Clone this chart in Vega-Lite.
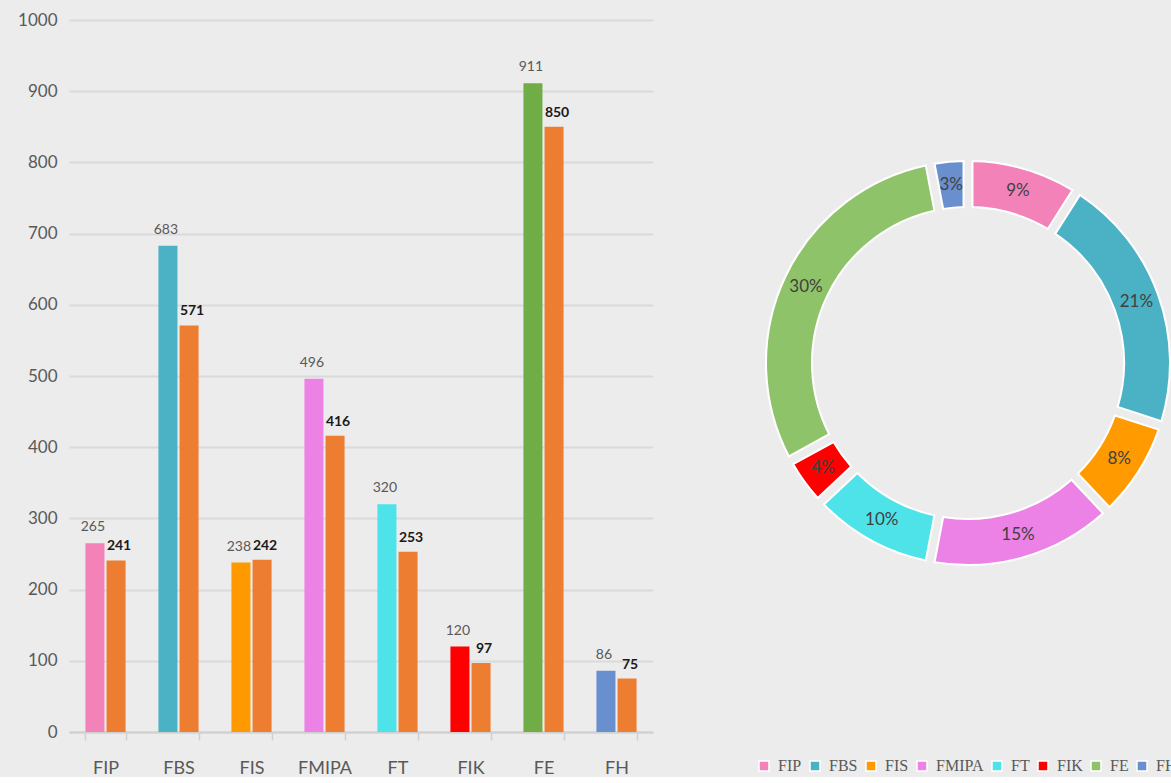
{
  "$schema": "https://vega.github.io/schema/vega-lite/v6.json",
  "background": "#ececec",
  "padding": {"left": 17, "top": 11, "right": 0, "bottom": 0},
  "config": {
    "view": {"stroke": null},
    "font": "Lato, sans-serif"
  },
  "spacing": 103,
  "resolve": {"scale": {"color": "independent"}, "legend": {"color": "independent"}},
  "hconcat": [
    {
      "width": 584,
      "height": 712,
      "data": {
        "values": [
          {"faculty": "FIP", "series": "s1", "value": 265},
          {"faculty": "FIP", "series": "s2", "value": 241},
          {"faculty": "FBS", "series": "s1", "value": 683},
          {"faculty": "FBS", "series": "s2", "value": 571},
          {"faculty": "FIS", "series": "s1", "value": 238},
          {"faculty": "FIS", "series": "s2", "value": 242},
          {"faculty": "FMIPA", "series": "s1", "value": 496},
          {"faculty": "FMIPA", "series": "s2", "value": 416},
          {"faculty": "FT", "series": "s1", "value": 320},
          {"faculty": "FT", "series": "s2", "value": 253},
          {"faculty": "FIK", "series": "s1", "value": 120},
          {"faculty": "FIK", "series": "s2", "value": 97},
          {"faculty": "FE", "series": "s1", "value": 911},
          {"faculty": "FE", "series": "s2", "value": 850},
          {"faculty": "FH", "series": "s1", "value": 86},
          {"faculty": "FH", "series": "s2", "value": 75}
        ]
      },
      "encoding": {
        "x": {
          "field": "faculty", "type": "nominal", "sort": null,
          "scale": {"paddingInner": 0.45, "paddingOuter": 0.225},
          "axis": {
            "title": null, "labelAngle": 0, "labelFontSize": 18, "labelColor": "#595959",
            "labelPadding": 19, "tickBand": "extent", "ticks": true, "tickColor": "#d0d0d0",
            "tickSize": 8, "tickWidth": 1.5, "domainColor": "#d0d0d0", "domainWidth": 2, "grid": false
          }
        },
        "xOffset": {"field": "series", "type": "nominal", "scale": {"paddingInner": 0.1}},
        "y": {
          "field": "value", "type": "quantitative",
          "scale": {"domain": [0, 1000], "nice": false},
          "axis": {
            "title": null, "tickCount": 10, "format": "d", "grid": true, "gridColor": "#dadada", "gridWidth": 2,
            "domain": false, "ticks": false, "tickSize": 0, "labelFontSize": 17, "labelColor": "#595959",
            "labelPadding": 12
          }
        }
      },
      "layer": [
        {
          "mark": {"type": "bar"},
          "encoding": {
            "color": {
              "condition": {"test": "datum.series === 's2'", "value": "#ed7d31"},
              "field": "faculty", "type": "nominal", "legend": null,
              "scale": {
                "domain": ["FIP", "FBS", "FIS", "FMIPA", "FT", "FIK", "FE", "FH"],
                "range": ["#f382b8", "#4bb2c5", "#ff9900", "#ec82e6", "#4de3e8", "#ff0000", "#70ad47", "#6a8fcf"]
              }
            }
          }
        },
        {
          "transform": [{"filter": "datum.series === 's1'"}],
          "mark": {"type": "text", "baseline": "bottom", "dy": -9, "dx": -2, "fontSize": 14, "color": "#595959"},
          "encoding": {"text": {"field": "value", "type": "quantitative"}}
        },
        {
          "transform": [{"filter": "datum.series === 's2'"}],
          "mark": {"type": "text", "baseline": "bottom", "dy": -7, "dx": 3, "fontSize": 14, "fontWeight": "bold", "color": "#1a1a1a"},
          "encoding": {"text": {"field": "value", "type": "quantitative"}}
        }
      ]
    },
    {
      "width": 410,
      "height": 686,
      "data": {
        "values": [
          {"faculty": "FIP", "share": 0.09, "rank": 1},
          {"faculty": "FBS", "share": 0.21, "rank": 2},
          {"faculty": "FIS", "share": 0.08, "rank": 3},
          {"faculty": "FMIPA", "share": 0.15, "rank": 4},
          {"faculty": "FT", "share": 0.10, "rank": 5},
          {"faculty": "FIK", "share": 0.04, "rank": 6},
          {"faculty": "FE", "share": 0.30, "rank": 7},
          {"faculty": "FH", "share": 0.03, "rank": 8}
        ]
      },
      "encoding": {
        "theta": {"field": "share", "type": "quantitative", "stack": true},
        "order": {"field": "rank", "type": "quantitative"}
      },
      "layer": [
        {
          "mark": {"type": "arc", "outerRadius": 202, "innerRadius": 156, "padAngle": 0.035, "stroke": "#ffffff", "strokeWidth": 2},
          "encoding": {
            "color": {
              "field": "faculty", "type": "nominal", "sort": null,
              "scale": {
                "domain": ["FIP", "FBS", "FIS", "FMIPA", "FT", "FIK", "FE", "FH"],
                "range": ["#f382b8", "#4bb2c5", "#ff9a00", "#ec82e6", "#4de3e8", "#ff0000", "#8fc36a", "#6a8fcf"]
              },
              "legend": {
                "orient": "none", "legendX": -7, "legendY": 738, "direction": "horizontal",
                "title": null, "symbolType": "square", "symbolSize": 100,
                "symbolStrokeColor": "#ffffff", "symbolStrokeWidth": 1.5,
                "labelFont": "Liberation Serif", "labelFontSize": 16, "labelColor": "#595959",
                "labelOffset": 6, "columnPadding": 5, "labelLimit": 200
              }
            }
          }
        },
        {
          "mark": {"type": "text", "radius": 179, "fontSize": 17, "color": "#404040"},
          "encoding": {"text": {"field": "share", "type": "quantitative", "format": ".0%"}}
        }
      ]
    }
  ]
}
